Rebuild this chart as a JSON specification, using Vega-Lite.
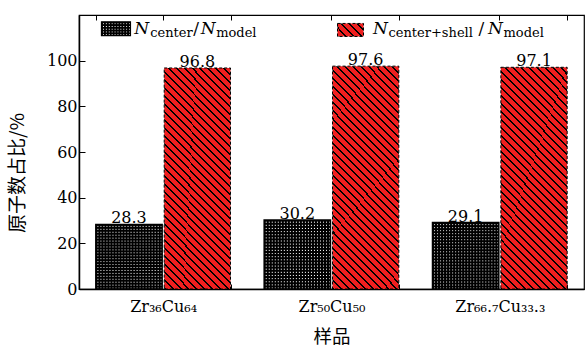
{
"$schema":"https://vega.github.io/schema/vega-lite/v6.json",
"width":505,"height":274,"autosize":"none",
"padding":{"top":15,"left":79,"right":1,"bottom":58},
"background":"white",
"config":{"view":{"stroke":"black","strokeWidth":1.2},"font":"DejaVu Serif"},
"data":{"values":[
{"sample":"Zr36Cu64","series":"center","value":28.3},
{"sample":"Zr36Cu64","series":"shell","value":96.8},
{"sample":"Zr50Cu50","series":"center","value":30.2},
{"sample":"Zr50Cu50","series":"shell","value":97.6},
{"sample":"Zr66.7Cu33.3","series":"center","value":29.1},
{"sample":"Zr66.7Cu33.3","series":"shell","value":97.1}
]},
"resolve":{"axis":{"x":"independent","y":"independent"}},
"encoding":{
"x":{"field":"sample","type":"nominal","sort":null,"scale":{"domain":["Zr36Cu64","Zr50Cu50","Zr66.7Cu33.3"],"paddingInner":0.2,"paddingOuter":0.1},"axis":null},
"y":{"field":"value","type":"quantitative","scale":{"domain":[0,120],"nice":false},"axis":null}
},
"layer":[
{"transform":[{"filter":"datum.series==='shell'"}],
"mark":{"type":"bar","stroke":"black","strokeWidth":1,"strokeDash":[3,2],
"fill":{"gradient":"linear","x1":0,"y1":1,"x2":0.362,"y2":-0.194,"stops":[
{"offset":0,"color":"#000"},{"offset":0.0069,"color":"#000"},{"offset":0.0069,"color":"#EF1F1F"},{"offset":0.0278,"color":"#EF1F1F"},
{"offset":0.0278,"color":"#000"},{"offset":0.0347,"color":"#000"},{"offset":0.0347,"color":"#EF1F1F"},{"offset":0.0556,"color":"#EF1F1F"},
{"offset":0.0556,"color":"#000"},{"offset":0.0625,"color":"#000"},{"offset":0.0625,"color":"#EF1F1F"},{"offset":0.0833,"color":"#EF1F1F"},
{"offset":0.0833,"color":"#000"},{"offset":0.0903,"color":"#000"},{"offset":0.0903,"color":"#EF1F1F"},{"offset":0.1111,"color":"#EF1F1F"},
{"offset":0.1111,"color":"#000"},{"offset":0.1181,"color":"#000"},{"offset":0.1181,"color":"#EF1F1F"},{"offset":0.1389,"color":"#EF1F1F"},
{"offset":0.1389,"color":"#000"},{"offset":0.1458,"color":"#000"},{"offset":0.1458,"color":"#EF1F1F"},{"offset":0.1667,"color":"#EF1F1F"},
{"offset":0.1667,"color":"#000"},{"offset":0.1736,"color":"#000"},{"offset":0.1736,"color":"#EF1F1F"},{"offset":0.1944,"color":"#EF1F1F"},
{"offset":0.1944,"color":"#000"},{"offset":0.2014,"color":"#000"},{"offset":0.2014,"color":"#EF1F1F"},{"offset":0.2222,"color":"#EF1F1F"},
{"offset":0.2222,"color":"#000"},{"offset":0.2292,"color":"#000"},{"offset":0.2292,"color":"#EF1F1F"},{"offset":0.25,"color":"#EF1F1F"},
{"offset":0.25,"color":"#000"},{"offset":0.2569,"color":"#000"},{"offset":0.2569,"color":"#EF1F1F"},{"offset":0.2778,"color":"#EF1F1F"},
{"offset":0.2778,"color":"#000"},{"offset":0.2847,"color":"#000"},{"offset":0.2847,"color":"#EF1F1F"},{"offset":0.3056,"color":"#EF1F1F"},
{"offset":0.3056,"color":"#000"},{"offset":0.3125,"color":"#000"},{"offset":0.3125,"color":"#EF1F1F"},{"offset":0.3333,"color":"#EF1F1F"},
{"offset":0.3333,"color":"#000"},{"offset":0.3403,"color":"#000"},{"offset":0.3403,"color":"#EF1F1F"},{"offset":0.3611,"color":"#EF1F1F"},
{"offset":0.3611,"color":"#000"},{"offset":0.3681,"color":"#000"},{"offset":0.3681,"color":"#EF1F1F"},{"offset":0.3889,"color":"#EF1F1F"},
{"offset":0.3889,"color":"#000"},{"offset":0.3958,"color":"#000"},{"offset":0.3958,"color":"#EF1F1F"},{"offset":0.4167,"color":"#EF1F1F"},
{"offset":0.4167,"color":"#000"},{"offset":0.4236,"color":"#000"},{"offset":0.4236,"color":"#EF1F1F"},{"offset":0.4444,"color":"#EF1F1F"},
{"offset":0.4444,"color":"#000"},{"offset":0.4514,"color":"#000"},{"offset":0.4514,"color":"#EF1F1F"},{"offset":0.4722,"color":"#EF1F1F"},
{"offset":0.4722,"color":"#000"},{"offset":0.4792,"color":"#000"},{"offset":0.4792,"color":"#EF1F1F"},{"offset":0.5,"color":"#EF1F1F"},
{"offset":0.5,"color":"#000"},{"offset":0.5069,"color":"#000"},{"offset":0.5069,"color":"#EF1F1F"},{"offset":0.5278,"color":"#EF1F1F"},
{"offset":0.5278,"color":"#000"},{"offset":0.5347,"color":"#000"},{"offset":0.5347,"color":"#EF1F1F"},{"offset":0.5556,"color":"#EF1F1F"},
{"offset":0.5556,"color":"#000"},{"offset":0.5625,"color":"#000"},{"offset":0.5625,"color":"#EF1F1F"},{"offset":0.5833,"color":"#EF1F1F"},
{"offset":0.5833,"color":"#000"},{"offset":0.5903,"color":"#000"},{"offset":0.5903,"color":"#EF1F1F"},{"offset":0.6111,"color":"#EF1F1F"},
{"offset":0.6111,"color":"#000"},{"offset":0.6181,"color":"#000"},{"offset":0.6181,"color":"#EF1F1F"},{"offset":0.6389,"color":"#EF1F1F"},
{"offset":0.6389,"color":"#000"},{"offset":0.6458,"color":"#000"},{"offset":0.6458,"color":"#EF1F1F"},{"offset":0.6667,"color":"#EF1F1F"},
{"offset":0.6667,"color":"#000"},{"offset":0.6736,"color":"#000"},{"offset":0.6736,"color":"#EF1F1F"},{"offset":0.6944,"color":"#EF1F1F"},
{"offset":0.6944,"color":"#000"},{"offset":0.7014,"color":"#000"},{"offset":0.7014,"color":"#EF1F1F"},{"offset":0.7222,"color":"#EF1F1F"},
{"offset":0.7222,"color":"#000"},{"offset":0.7292,"color":"#000"},{"offset":0.7292,"color":"#EF1F1F"},{"offset":0.75,"color":"#EF1F1F"},
{"offset":0.75,"color":"#000"},{"offset":0.7569,"color":"#000"},{"offset":0.7569,"color":"#EF1F1F"},{"offset":0.7778,"color":"#EF1F1F"},
{"offset":0.7778,"color":"#000"},{"offset":0.7847,"color":"#000"},{"offset":0.7847,"color":"#EF1F1F"},{"offset":0.8056,"color":"#EF1F1F"},
{"offset":0.8056,"color":"#000"},{"offset":0.8125,"color":"#000"},{"offset":0.8125,"color":"#EF1F1F"},{"offset":0.8333,"color":"#EF1F1F"},
{"offset":0.8333,"color":"#000"},{"offset":0.8403,"color":"#000"},{"offset":0.8403,"color":"#EF1F1F"},{"offset":0.8611,"color":"#EF1F1F"},
{"offset":0.8611,"color":"#000"},{"offset":0.8681,"color":"#000"},{"offset":0.8681,"color":"#EF1F1F"},{"offset":0.8889,"color":"#EF1F1F"},
{"offset":0.8889,"color":"#000"},{"offset":0.8958,"color":"#000"},{"offset":0.8958,"color":"#EF1F1F"},{"offset":0.9167,"color":"#EF1F1F"},
{"offset":0.9167,"color":"#000"},{"offset":0.9236,"color":"#000"},{"offset":0.9236,"color":"#EF1F1F"},{"offset":0.9444,"color":"#EF1F1F"},
{"offset":0.9444,"color":"#000"},{"offset":0.9514,"color":"#000"},{"offset":0.9514,"color":"#EF1F1F"},{"offset":0.9722,"color":"#EF1F1F"},
{"offset":0.9722,"color":"#000"},{"offset":0.9792,"color":"#000"},{"offset":0.9792,"color":"#EF1F1F"},{"offset":1,"color":"#EF1F1F"}
]}},
"encoding":{
"x":{"field":"sample","type":"nominal","sort":null,"scale":{"domain":["Zr36Cu64","Zr50Cu50","Zr66.7Cu33.3"],"paddingInner":0.2,"paddingOuter":0.1},
"axis":{"orient":"bottom","title":"样品","titleFont":"Noto Sans CJK SC","titleFontSize":18.5,"titleFontWeight":"normal","titleColor":"black","titlePadding":13,
"labelFont":"DejaVu Serif","labelFontSize":16,"labelColor":"black","labelAngle":0,"labelPadding":14,
"labelExpr":"datum.value==='Zr36Cu64'?'Zr₃₆Cu₆₄':datum.value==='Zr50Cu50'?'Zr₅₀Cu₅₀':datum.value==='Zr66.7Cu33.3'?'Zr₆₆.₇Cu₃₃.₃':''",
"tickBand":"extent","tickSize":-5,"tickColor":"black","tickWidth":1,"domainColor":"black","domainWidth":1.5}},
"y":{"field":"value","type":"quantitative","scale":{"domain":[0,120],"nice":false},
"axis":{"title":null,
"values":[0,20,40,60,80,100],"grid":false,"labelFont":"DejaVu Serif","labelFontSize":16,"labelColor":"black","labelPadding":8,
"tickSize":-6,"tickColor":"black","tickWidth":1,"domainColor":"black","domainWidth":1.5}},
"xOffset":{"field":"series","type":"nominal","scale":{"domain":["center","shell"],"paddingInner":0.03,"paddingOuter":0}}
}},
{"transform":[{"filter":"datum.series==='center'"}],
"mark":{"type":"bar","strokeWidth":0,
"fill":{"gradient":"linear","x1":0,"y1":0,"x2":0,"y2":1,"stops":[
{"offset":0,"color":"#000"},{"offset":0.0159,"color":"#000"},{"offset":0.0318,"color":"#fff"},
{"offset":0.0455,"color":"#000"},{"offset":0.0614,"color":"#000"},{"offset":0.0773,"color":"#fff"},
{"offset":0.0909,"color":"#000"},{"offset":0.1068,"color":"#000"},{"offset":0.1227,"color":"#fff"},
{"offset":0.1364,"color":"#000"},{"offset":0.1523,"color":"#000"},{"offset":0.1682,"color":"#fff"},
{"offset":0.1818,"color":"#000"},{"offset":0.1977,"color":"#000"},{"offset":0.2136,"color":"#fff"},
{"offset":0.2273,"color":"#000"},{"offset":0.2432,"color":"#000"},{"offset":0.2591,"color":"#fff"},
{"offset":0.2727,"color":"#000"},{"offset":0.2886,"color":"#000"},{"offset":0.3045,"color":"#fff"},
{"offset":0.3182,"color":"#000"},{"offset":0.3341,"color":"#000"},{"offset":0.35,"color":"#fff"},
{"offset":0.3636,"color":"#000"},{"offset":0.3795,"color":"#000"},{"offset":0.3955,"color":"#fff"},
{"offset":0.4091,"color":"#000"},{"offset":0.425,"color":"#000"},{"offset":0.4409,"color":"#fff"},
{"offset":0.4545,"color":"#000"},{"offset":0.4704,"color":"#000"},{"offset":0.4864,"color":"#fff"},
{"offset":0.5,"color":"#000"},{"offset":0.5159,"color":"#000"},{"offset":0.5318,"color":"#fff"},
{"offset":0.5455,"color":"#000"},{"offset":0.5614,"color":"#000"},{"offset":0.5773,"color":"#fff"},
{"offset":0.5909,"color":"#000"},{"offset":0.6068,"color":"#000"},{"offset":0.6227,"color":"#fff"},
{"offset":0.6364,"color":"#000"},{"offset":0.6523,"color":"#000"},{"offset":0.6682,"color":"#fff"},
{"offset":0.6818,"color":"#000"},{"offset":0.6977,"color":"#000"},{"offset":0.7136,"color":"#fff"},
{"offset":0.7273,"color":"#000"},{"offset":0.7432,"color":"#000"},{"offset":0.7591,"color":"#fff"},
{"offset":0.7727,"color":"#000"},{"offset":0.7886,"color":"#000"},{"offset":0.8045,"color":"#fff"},
{"offset":0.8182,"color":"#000"},{"offset":0.8341,"color":"#000"},{"offset":0.85,"color":"#fff"},
{"offset":0.8636,"color":"#000"},{"offset":0.8795,"color":"#000"},{"offset":0.8955,"color":"#fff"},
{"offset":0.9091,"color":"#000"},{"offset":0.925,"color":"#000"},{"offset":0.9409,"color":"#fff"},
{"offset":0.9545,"color":"#000"},{"offset":0.9704,"color":"#000"},{"offset":0.9864,"color":"#fff"},
{"offset":1,"color":"#000"}
]}},
"encoding":{
"x":{"field":"sample","type":"nominal","sort":null,"scale":{"domain":["Zr36Cu64","Zr50Cu50","Zr66.7Cu33.3"],"paddingInner":0.2,"paddingOuter":0.1},
"axis":{"orient":"top","labels":false,"title":null,"domain":false,"tickSize":-5,"tickColor":"black","tickWidth":1}},
"xOffset":{"field":"series","type":"nominal","scale":{"domain":["center","shell"],"paddingInner":0.03,"paddingOuter":0}}
}},
{"transform":[{"filter":"datum.series==='center'"}],
"mark":{"type":"bar","stroke":"black","strokeWidth":1.5,
"fill":{"gradient":"linear","x1":0,"y1":0,"x2":1,"y2":0,"stops":[
{"offset":0,"color":"#000"},{"offset":0.0159,"color":"#000"},{"offset":0.0318,"color":"rgba(0,0,0,0)"},
{"offset":0.0455,"color":"#000"},{"offset":0.0614,"color":"#000"},{"offset":0.0773,"color":"rgba(0,0,0,0)"},
{"offset":0.0909,"color":"#000"},{"offset":0.1068,"color":"#000"},{"offset":0.1227,"color":"rgba(0,0,0,0)"},
{"offset":0.1364,"color":"#000"},{"offset":0.1523,"color":"#000"},{"offset":0.1682,"color":"rgba(0,0,0,0)"},
{"offset":0.1818,"color":"#000"},{"offset":0.1977,"color":"#000"},{"offset":0.2136,"color":"rgba(0,0,0,0)"},
{"offset":0.2273,"color":"#000"},{"offset":0.2432,"color":"#000"},{"offset":0.2591,"color":"rgba(0,0,0,0)"},
{"offset":0.2727,"color":"#000"},{"offset":0.2886,"color":"#000"},{"offset":0.3045,"color":"rgba(0,0,0,0)"},
{"offset":0.3182,"color":"#000"},{"offset":0.3341,"color":"#000"},{"offset":0.35,"color":"rgba(0,0,0,0)"},
{"offset":0.3636,"color":"#000"},{"offset":0.3795,"color":"#000"},{"offset":0.3955,"color":"rgba(0,0,0,0)"},
{"offset":0.4091,"color":"#000"},{"offset":0.425,"color":"#000"},{"offset":0.4409,"color":"rgba(0,0,0,0)"},
{"offset":0.4545,"color":"#000"},{"offset":0.4704,"color":"#000"},{"offset":0.4864,"color":"rgba(0,0,0,0)"},
{"offset":0.5,"color":"#000"},{"offset":0.5159,"color":"#000"},{"offset":0.5318,"color":"rgba(0,0,0,0)"},
{"offset":0.5455,"color":"#000"},{"offset":0.5614,"color":"#000"},{"offset":0.5773,"color":"rgba(0,0,0,0)"},
{"offset":0.5909,"color":"#000"},{"offset":0.6068,"color":"#000"},{"offset":0.6227,"color":"rgba(0,0,0,0)"},
{"offset":0.6364,"color":"#000"},{"offset":0.6523,"color":"#000"},{"offset":0.6682,"color":"rgba(0,0,0,0)"},
{"offset":0.6818,"color":"#000"},{"offset":0.6977,"color":"#000"},{"offset":0.7136,"color":"rgba(0,0,0,0)"},
{"offset":0.7273,"color":"#000"},{"offset":0.7432,"color":"#000"},{"offset":0.7591,"color":"rgba(0,0,0,0)"},
{"offset":0.7727,"color":"#000"},{"offset":0.7886,"color":"#000"},{"offset":0.8045,"color":"rgba(0,0,0,0)"},
{"offset":0.8182,"color":"#000"},{"offset":0.8341,"color":"#000"},{"offset":0.85,"color":"rgba(0,0,0,0)"},
{"offset":0.8636,"color":"#000"},{"offset":0.8795,"color":"#000"},{"offset":0.8955,"color":"rgba(0,0,0,0)"},
{"offset":0.9091,"color":"#000"},{"offset":0.925,"color":"#000"},{"offset":0.9409,"color":"rgba(0,0,0,0)"},
{"offset":0.9545,"color":"#000"},{"offset":0.9704,"color":"#000"},{"offset":0.9864,"color":"rgba(0,0,0,0)"},
{"offset":1,"color":"#000"}
]}},
"encoding":{
"x":{"field":"sample","type":"nominal","sort":null,"scale":{"domain":["Zr36Cu64","Zr50Cu50","Zr66.7Cu33.3"],"paddingInner":0.2,"paddingOuter":0.1},
"axis":{"orient":"top","labels":false,"title":null,"domain":false,"tickBand":"extent","tickSize":-5,"tickColor":"black","tickWidth":1}},
"xOffset":{"field":"series","type":"nominal","scale":{"domain":["center","shell"],"paddingInner":0.03,"paddingOuter":0}}
}},
{"mark":{"type":"text","font":"DejaVu Serif","fontSize":16,"baseline":"alphabetic","dy":-1,"color":"black"},
"encoding":{"text":{"field":"value","type":"quantitative","format":".1f"},
"xOffset":{"field":"series","type":"nominal","scale":{"domain":["center","shell"],"paddingInner":0.03,"paddingOuter":0}}}},
{"transform":[{"filter":"datum.sample==='Zr36Cu64' && datum.series==='center'"}],
"mark":{"type":"text","text":"原子数占比/%","font":"Noto Sans CJK SC","fontSize":19,"angle":270,"align":"center","baseline":"middle","dy":-144.7,"color":"black"},
"encoding":{"y":{"datum":50.8,"type":"quantitative","axis":null}}},
{"transform":[{"filter":"datum.sample==='Zr36Cu64' && datum.series==='center'"}],
"mark":{"type":"bar","width":29,"xOffset":-47.2,"strokeWidth":0,
"fill":{"gradient":"linear","x1":0,"y1":0,"x2":0,"y2":1,"stops":[
{"offset":0,"color":"#000"},{"offset":0.07,"color":"#000"},{"offset":0.14,"color":"#fff"},
{"offset":0.2,"color":"#000"},{"offset":0.27,"color":"#000"},{"offset":0.34,"color":"#fff"},
{"offset":0.4,"color":"#000"},{"offset":0.47,"color":"#000"},{"offset":0.54,"color":"#fff"},
{"offset":0.6,"color":"#000"},{"offset":0.67,"color":"#000"},{"offset":0.74,"color":"#fff"},
{"offset":0.8,"color":"#000"},{"offset":0.87,"color":"#000"},{"offset":0.94,"color":"#fff"},
{"offset":1,"color":"#000"}
]}},
"encoding":{"y":{"datum":117,"type":"quantitative","axis":null},"y2":{"datum":111}}},
{"transform":[{"filter":"datum.sample==='Zr36Cu64' && datum.series==='center'"}],
"mark":{"type":"bar","width":29,"xOffset":-47.2,"stroke":"black","strokeWidth":1.2,
"fill":{"gradient":"linear","x1":0,"y1":0,"x2":1,"y2":0,"stops":[
{"offset":0,"color":"#000"},{"offset":0.035,"color":"#000"},{"offset":0.07,"color":"rgba(0,0,0,0)"},
{"offset":0.1,"color":"#000"},{"offset":0.135,"color":"#000"},{"offset":0.17,"color":"rgba(0,0,0,0)"},
{"offset":0.2,"color":"#000"},{"offset":0.235,"color":"#000"},{"offset":0.27,"color":"rgba(0,0,0,0)"},
{"offset":0.3,"color":"#000"},{"offset":0.335,"color":"#000"},{"offset":0.37,"color":"rgba(0,0,0,0)"},
{"offset":0.4,"color":"#000"},{"offset":0.435,"color":"#000"},{"offset":0.47,"color":"rgba(0,0,0,0)"},
{"offset":0.5,"color":"#000"},{"offset":0.535,"color":"#000"},{"offset":0.57,"color":"rgba(0,0,0,0)"},
{"offset":0.6,"color":"#000"},{"offset":0.635,"color":"#000"},{"offset":0.67,"color":"rgba(0,0,0,0)"},
{"offset":0.7,"color":"#000"},{"offset":0.735,"color":"#000"},{"offset":0.77,"color":"rgba(0,0,0,0)"},
{"offset":0.8,"color":"#000"},{"offset":0.835,"color":"#000"},{"offset":0.87,"color":"rgba(0,0,0,0)"},
{"offset":0.9,"color":"#000"},{"offset":0.935,"color":"#000"},{"offset":0.97,"color":"rgba(0,0,0,0)"},
{"offset":1,"color":"#000"}
]}},
"encoding":{"y":{"datum":117,"type":"quantitative","axis":null},"y2":{"datum":111}}},
{"transform":[{"filter":"datum.sample==='Zr50Cu50' && datum.series==='center'"}],
"mark":{"type":"bar","width":26,"xOffset":19,"stroke":"black","strokeWidth":1,"strokeDash":[3,2],
"fill":{"gradient":"linear","x1":0,"y1":1,"x2":1.2027,"y2":0.421,"stops":[
{"offset":0,"color":"#000"},{"offset":0.05,"color":"#000"},{"offset":0.05,"color":"#EF1F1F"},{"offset":0.2,"color":"#EF1F1F"},
{"offset":0.2,"color":"#000"},{"offset":0.25,"color":"#000"},{"offset":0.25,"color":"#EF1F1F"},{"offset":0.4,"color":"#EF1F1F"},
{"offset":0.4,"color":"#000"},{"offset":0.45,"color":"#000"},{"offset":0.45,"color":"#EF1F1F"},{"offset":0.6,"color":"#EF1F1F"},
{"offset":0.6,"color":"#000"},{"offset":0.65,"color":"#000"},{"offset":0.65,"color":"#EF1F1F"},{"offset":0.8,"color":"#EF1F1F"},
{"offset":0.8,"color":"#000"},{"offset":0.85,"color":"#000"},{"offset":0.85,"color":"#EF1F1F"},{"offset":1,"color":"#EF1F1F"}
]}},
"encoding":{"y":{"datum":116.3,"type":"quantitative","axis":null},"y2":{"datum":110.6}}},
{"transform":[{"filter":"datum.sample==='Zr36Cu64' && datum.series==='center'"}],"mark":{"type":"text","text":"N","font":"DejaVu Serif","fontStyle":"italic","fontSize":17,"align":"left","baseline":"alphabetic","dx":-29,"color":"black"},
"encoding":{"y":{"datum":111.5,"type":"quantitative","axis":null}}},
{"transform":[{"filter":"datum.sample==='Zr36Cu64' && datum.series==='center'"}],"mark":{"type":"text","text":"center","font":"DejaVu Serif","fontSize":13,"align":"left","baseline":"alphabetic","dx":-13,"dy":3,"color":"black"},
"encoding":{"y":{"datum":111.5,"type":"quantitative","axis":null}}},
{"transform":[{"filter":"datum.sample==='Zr36Cu64' && datum.series==='center'"}],"mark":{"type":"text","text":"/","font":"DejaVu Serif","fontSize":17,"align":"left","baseline":"alphabetic","dx":30,"color":"black"},
"encoding":{"y":{"datum":111.5,"type":"quantitative","axis":null}}},
{"transform":[{"filter":"datum.sample==='Zr36Cu64' && datum.series==='center'"}],"mark":{"type":"text","text":"N","font":"DejaVu Serif","fontStyle":"italic","fontSize":17,"align":"left","baseline":"alphabetic","dx":37.5,"color":"black"},
"encoding":{"y":{"datum":111.5,"type":"quantitative","axis":null}}},
{"transform":[{"filter":"datum.sample==='Zr36Cu64' && datum.series==='center'"}],"mark":{"type":"text","text":"model","font":"DejaVu Serif","fontSize":13,"align":"left","baseline":"alphabetic","dx":53,"dy":3,"color":"black"},
"encoding":{"y":{"datum":111.5,"type":"quantitative","axis":null}}},
{"transform":[{"filter":"datum.sample==='Zr50Cu50' && datum.series==='center'"}],"mark":{"type":"text","text":"N","font":"DejaVu Serif","fontStyle":"italic","fontSize":17,"align":"left","baseline":"alphabetic","dx":41.5,"color":"black"},
"encoding":{"y":{"datum":111.5,"type":"quantitative","axis":null}}},
{"transform":[{"filter":"datum.sample==='Zr50Cu50' && datum.series==='center'"}],"mark":{"type":"text","text":"center+shell","font":"DejaVu Serif","fontSize":13,"align":"left","baseline":"alphabetic","dx":57,"dy":3,"color":"black"},
"encoding":{"y":{"datum":111.5,"type":"quantitative","axis":null}}},
{"transform":[{"filter":"datum.sample==='Zr50Cu50' && datum.series==='center'"}],"mark":{"type":"text","text":"/","font":"DejaVu Serif","fontSize":17,"align":"left","baseline":"alphabetic","dx":147,"color":"black"},
"encoding":{"y":{"datum":111.5,"type":"quantitative","axis":null}}},
{"transform":[{"filter":"datum.sample==='Zr50Cu50' && datum.series==='center'"}],"mark":{"type":"text","text":"N","font":"DejaVu Serif","fontStyle":"italic","fontSize":17,"align":"left","baseline":"alphabetic","dx":156.5,"color":"black"},
"encoding":{"y":{"datum":111.5,"type":"quantitative","axis":null}}},
{"transform":[{"filter":"datum.sample==='Zr50Cu50' && datum.series==='center'"}],"mark":{"type":"text","text":"model","font":"DejaVu Serif","fontSize":13,"align":"left","baseline":"alphabetic","dx":172,"dy":3,"color":"black"},
"encoding":{"y":{"datum":111.5,"type":"quantitative","axis":null}}}
]
}
